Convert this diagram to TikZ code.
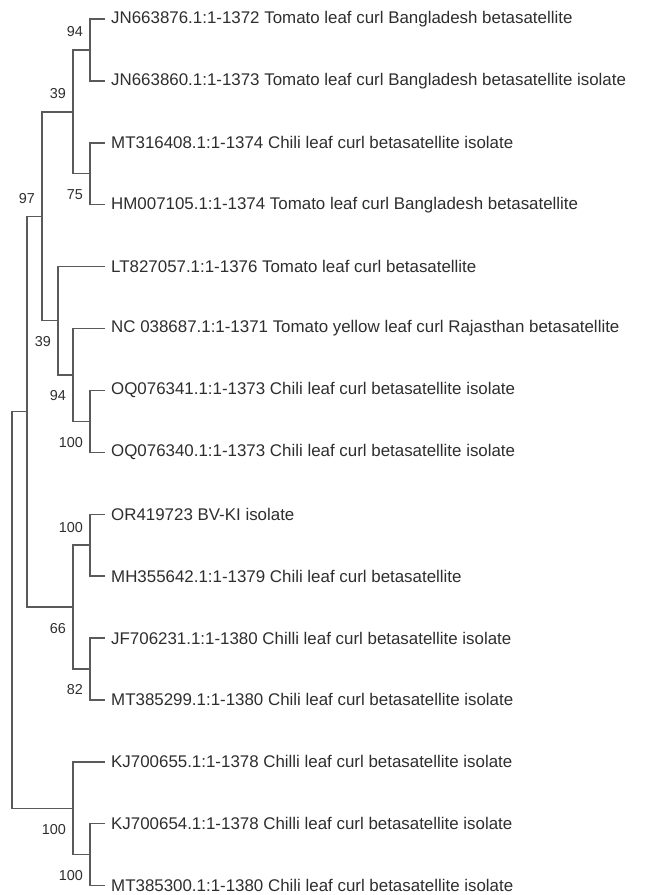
\documentclass[tikz,border=0pt]{standalone}
\usepackage{fontspec}
\setmainfont{Liberation Sans}
\definecolor{branchgray}{HTML}{5A5A5A}
\definecolor{textgray}{HTML}{2E2E2E}
\begin{document}
	\begin{tikzpicture}[x=1pt, y=-1pt,
		branch/.style={draw=branchgray, line width=1.4pt},
		leaf/.style={anchor=west, inner xsep=6pt, inner ysep=0pt, text=textgray, font=\fontsize{16.9}{19}\selectfont},
		bootup/.style={anchor=east, inner sep=0pt, xshift=-7pt, yshift=18pt, text=textgray, font=\fontsize{14.4}{16}\selectfont},
		bootdown/.style={anchor=east, inner sep=0pt, xshift=-7pt, yshift=-21pt, text=textgray, font=\fontsize{14.4}{16}\selectfont}]
		\useasboundingbox (0,0) rectangle (652,895);
		%draw taxa
		\node[leaf] (jn876) at (105,19) {JN663876.1:1-1372 Tomato leaf curl Bangladesh betasatellite};
		\node[leaf] (jn860) at (105,80.9) {JN663860.1:1-1373 Tomato leaf curl Bangladesh betasatellite isolate};
		\node[leaf] (mt408) at (105,142.8) {MT316408.1:1-1374 Chili leaf curl betasatellite isolate};
		\node[leaf] (hm105) at (105,204.7) {HM007105.1:1-1374 Tomato leaf curl Bangladesh betasatellite};
		\node[leaf] (lt057) at (105,266.6) {LT827057.1:1-1376 Tomato leaf curl betasatellite};
		\node[leaf] (nc687) at (105,328.5) {NC 038687.1:1-1371 Tomato yellow leaf curl Rajasthan betasatellite};
		\node[leaf] (oq341) at (105,390.4) {OQ076341.1:1-1373 Chili leaf curl betasatellite isolate};
		\node[leaf] (oq340) at (105,452.3) {OQ076340.1:1-1373 Chili leaf curl betasatellite isolate};
		\node[leaf] (or723) at (105,514.2) {OR419723 BV-KI isolate};
		\node[leaf] (mh642) at (105,576.1) {MH355642.1:1-1379 Chili leaf curl betasatellite};
		\node[leaf] (jf231) at (105,638) {JF706231.1:1-1380 Chilli leaf curl betasatellite isolate};
		\node[leaf] (mt299) at (105,699.9) {MT385299.1:1-1380 Chili leaf curl betasatellite isolate};
		\node[leaf] (kj655) at (105,761.8) {KJ700655.1:1-1378 Chilli leaf curl betasatellite isolate};
		\node[leaf] (kj654) at (105,823.7) {KJ700654.1:1-1378 Chilli leaf curl betasatellite isolate};
		\node[leaf] (mt300) at (105,885.6) {MT385300.1:1-1380 Chili leaf curl betasatellite isolate};
		%internal nodes
		\coordinate (jnpair) at (90,49.95);
		\coordinate (mthmpair) at (90,173.75);
		\coordinate (bangl) at (73,111.85);
		\coordinate (oqpair) at (90,421.35);
		\coordinate (ncoq) at (73,374.9);
		\coordinate (ltnc) at (58,320.75);
		\coordinate (tomato) at (42,216.3);
		\coordinate (ormhpair) at (90,545.15);
		\coordinate (jfmtpair) at (90,668.95);
		\coordinate (chili) at (73,607.05);
		\coordinate (upper) at (27,411.7);
		\coordinate (kjpair) at (90,854.65);
		\coordinate (kjclade) at (73,808.2);
		\coordinate (root) at (12,609.95);
		%draw branches
		\draw[branch] (root) |- (upper);
		\draw[branch] (root) |- (kjclade);
		\draw[branch] (upper) |- (tomato);
		\draw[branch] (upper) |- (chili);
		\draw[branch] (tomato) |- (bangl);
		\draw[branch] (tomato) |- (ltnc);
		\draw[branch] (bangl) |- (jnpair);
		\draw[branch] (bangl) |- (mthmpair);
		\draw[branch] (jnpair) |- (jn876.west);
		\draw[branch] (jnpair) |- (jn860.west);
		\draw[branch] (mthmpair) |- (mt408.west);
		\draw[branch] (mthmpair) |- (hm105.west);
		\draw[branch] (ltnc) |- (lt057.west);
		\draw[branch] (ltnc) |- (ncoq);
		\draw[branch] (ncoq) |- (nc687.west);
		\draw[branch] (ncoq) |- (oqpair);
		\draw[branch] (oqpair) |- (oq341.west);
		\draw[branch] (oqpair) |- (oq340.west);
		\draw[branch] (chili) |- (ormhpair);
		\draw[branch] (chili) |- (jfmtpair);
		\draw[branch] (ormhpair) |- (or723.west);
		\draw[branch] (ormhpair) |- (mh642.west);
		\draw[branch] (jfmtpair) |- (jf231.west);
		\draw[branch] (jfmtpair) |- (mt299.west);
		\draw[branch] (kjclade) |- (kj655.west);
		\draw[branch] (kjclade) |- (kjpair);
		\draw[branch] (kjpair) |- (kj654.west);
		\draw[branch] (kjpair) |- (mt300.west);
		%draw bootstrap values
		\node[bootup] (bjn) at (jnpair) {94};
		\node[bootdown] (bmt) at (mthmpair) {75};
		\node[bootup] (bbangl) at (bangl) {39};
		\node[bootup] (btomato) at (tomato) {97};
		\node[bootdown] (bltnc) at (ltnc) {39};
		\node[bootdown] (bncoq) at (ncoq) {94};
		\node[bootdown] (boq) at (oqpair) {100};
		\node[bootup] (bor) at (ormhpair) {100};
		\node[bootdown] (bchili) at (chili) {66};
		\node[bootdown] (bjf) at (jfmtpair) {82};
		\node[bootdown] (bkjclade) at (kjclade) {100};
		\node[bootdown] (bkj) at (kjpair) {100};
	\end{tikzpicture}
\end{document}
